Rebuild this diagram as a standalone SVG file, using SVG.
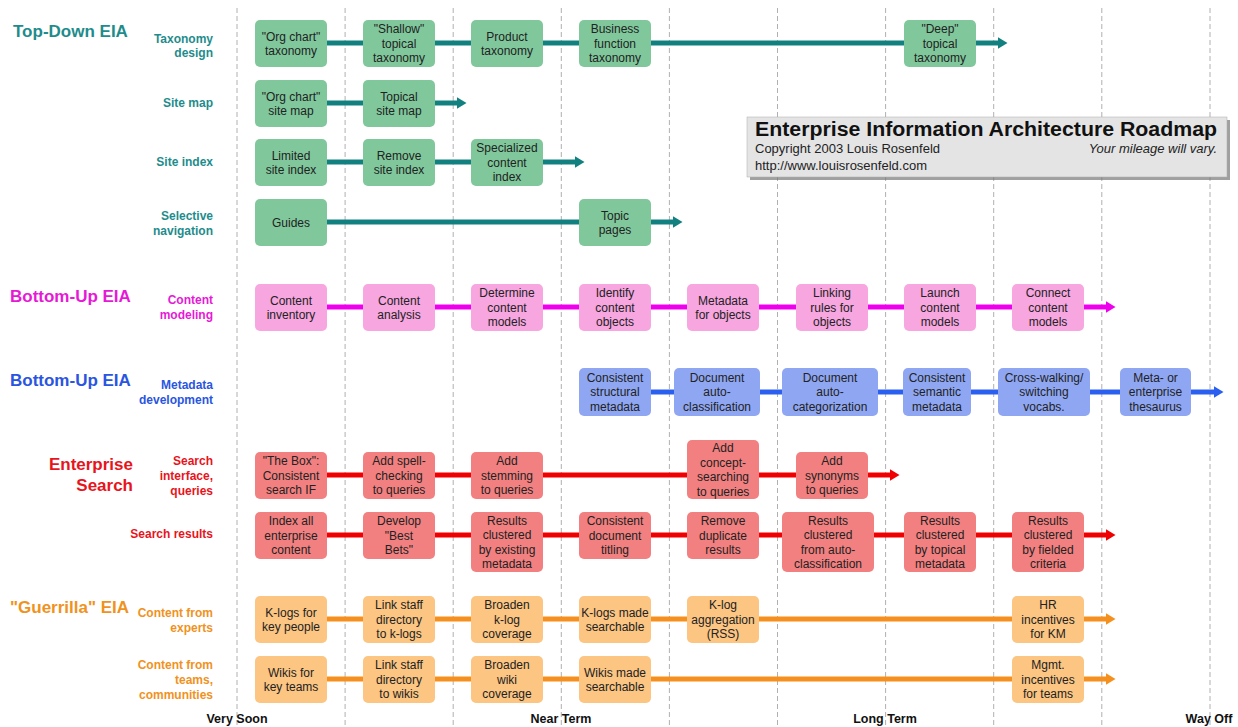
<svg xmlns="http://www.w3.org/2000/svg" width="1238" height="727" viewBox="0 0 1238 727">
<style>
text{font-family:"Liberation Sans",Arial,sans-serif}
.grid line{stroke:#b0b0b0;stroke-width:1;stroke-dasharray:5 3}
.n text{font-size:12px;fill:#222;text-anchor:middle}
.g rect{fill:#80c89c}
.p rect{fill:#f7a6e0}
.b rect{fill:#8fa7f3}
.r rect{fill:#f28080}
.o rect{fill:#fcc582}
.cg{stroke:#138080}
.cp{stroke:#ee00ee}
.cb{stroke:#2b5ff0}
.cr{stroke:#f00000}
.co{stroke:#f5901e}
#connectors line{stroke-width:5}
.grp{font-size:17px;font-weight:bold}
.sub{font-size:12px;font-weight:bold;text-anchor:end}
.tg{fill:#1e8c8c}.tp{fill:#e619d6}.tb{fill:#2a55e0}.tr{fill:#e8141c}.to{fill:#f0921e}
.axis{font-size:12.5px;font-weight:bold;fill:#111;text-anchor:middle}
</style>
<defs>
<marker id="ag" markerUnits="userSpaceOnUse" markerWidth="10" markerHeight="12" viewBox="0 0 10 12" refX="0.5" refY="6" orient="auto"><path d="M0,0 L10,6 L0,12 z" fill="#138080"/></marker>
<marker id="ap" markerUnits="userSpaceOnUse" markerWidth="10" markerHeight="12" viewBox="0 0 10 12" refX="0.5" refY="6" orient="auto"><path d="M0,0 L10,6 L0,12 z" fill="#ee00ee"/></marker>
<marker id="ab" markerUnits="userSpaceOnUse" markerWidth="10" markerHeight="12" viewBox="0 0 10 12" refX="0.5" refY="6" orient="auto"><path d="M0,0 L10,6 L0,12 z" fill="#2b5ff0"/></marker>
<marker id="ar" markerUnits="userSpaceOnUse" markerWidth="10" markerHeight="12" viewBox="0 0 10 12" refX="0.5" refY="6" orient="auto"><path d="M0,0 L10,6 L0,12 z" fill="#f00000"/></marker>
<marker id="ao" markerUnits="userSpaceOnUse" markerWidth="10" markerHeight="12" viewBox="0 0 10 12" refX="0.5" refY="6" orient="auto"><path d="M0,0 L10,6 L0,12 z" fill="#f5901e"/></marker>
</defs>
<rect width="1238" height="727" fill="#fff"/>
<g class="grid">
<line x1="237" y1="8" x2="237" y2="727"/>
<line x1="345.1" y1="8" x2="345.1" y2="727"/>
<line x1="453.2" y1="8" x2="453.2" y2="727"/>
<line x1="561.3" y1="8" x2="561.3" y2="727"/>
<line x1="669.4" y1="8" x2="669.4" y2="727"/>
<line x1="777.5" y1="8" x2="777.5" y2="727"/>
<line x1="885.6" y1="8" x2="885.6" y2="727"/>
<line x1="993.7" y1="8" x2="993.7" y2="727"/>
<line x1="1101.8" y1="8" x2="1101.8" y2="727"/>
<line x1="1210" y1="8" x2="1210" y2="727"/>
</g>
<g id="labels">
<text class="grp tg" x="13" y="37">Top-Down EIA</text>
<text class="grp tp" x="10" y="302">Bottom-Up EIA</text>
<text class="grp tb" x="10" y="386">Bottom-Up EIA</text>
<text class="grp tr" x="133" y="470" text-anchor="end">Enterprise</text>
<text class="grp tr" x="133" y="491" text-anchor="end">Search</text>
<text class="grp to" x="10" y="613">"Guerrilla" EIA</text>
<text class="sub tg" x="213" y="43">Taxonomy</text>
<text class="sub tg" x="213" y="57">design</text>
<text class="sub tg" x="213" y="107">Site map</text>
<text class="sub tg" x="213" y="166">Site index</text>
<text class="sub tg" x="213" y="220">Selective</text>
<text class="sub tg" x="213" y="235">navigation</text>
<text class="sub tp" x="213" y="304">Content</text>
<text class="sub tp" x="213" y="319">modeling</text>
<text class="sub tb" x="213" y="389">Metadata</text>
<text class="sub tb" x="213" y="404">development</text>
<text class="sub tr" x="213" y="465">Search</text>
<text class="sub tr" x="213" y="480">interface,</text>
<text class="sub tr" x="213" y="495">queries</text>
<text class="sub tr" x="213" y="538">Search results</text>
<text class="sub to" x="213" y="617">Content from</text>
<text class="sub to" x="213" y="632">experts</text>
<text class="sub to" x="213" y="669">Content from</text>
<text class="sub to" x="213" y="684">teams,</text>
<text class="sub to" x="213" y="699">communities</text>
<text class="axis" x="237" y="723">Very Soon</text>
<text class="axis" x="561" y="723">Near Term</text>
<text class="axis" x="885" y="723">Long Term</text>
<text class="axis" x="1209" y="723">Way Off</text>
</g>
<g id="title">
<rect x="750" y="120" width="480" height="60" fill="#777" opacity="0.7"/>
<rect x="747" y="117" width="480" height="60" fill="#e4e4e4" stroke="#aaa" stroke-width="0.5"/>
<text x="755" y="136" font-size="20" font-weight="bold" fill="#111" textLength="462" lengthAdjust="spacingAndGlyphs">Enterprise Information Architecture Roadmap</text>
<text x="755" y="153" font-size="13" fill="#222">Copyright 2003 Louis Rosenfeld</text>
<text x="1217" y="153" font-size="13" fill="#222" font-style="italic" text-anchor="end">Your mileage will vary.</text>
<text x="755" y="170" font-size="13" fill="#222">http://www.louisrosenfeld.com</text>
</g>
<g id="connectors">
<line class="cg" x1="327" y1="43" x2="363" y2="43"/>
<line class="cg" x1="435" y1="43" x2="471" y2="43"/>
<line class="cg" x1="543" y1="43" x2="579" y2="43"/>
<line class="cg" x1="651" y1="43" x2="904" y2="43"/>
<line class="cg" x1="976" y1="43" x2="998" y2="43" marker-end="url(#ag)"/>
<line class="cg" x1="327" y1="103" x2="363" y2="103"/>
<line class="cg" x1="435" y1="103" x2="457" y2="103" marker-end="url(#ag)"/>
<line class="cg" x1="327" y1="162" x2="363" y2="162"/>
<line class="cg" x1="435" y1="162" x2="471" y2="162"/>
<line class="cg" x1="543" y1="162" x2="575" y2="162" marker-end="url(#ag)"/>
<line class="cg" x1="327" y1="222" x2="579" y2="222"/>
<line class="cg" x1="651" y1="222" x2="673" y2="222" marker-end="url(#ag)"/>
<line class="cp" x1="327" y1="307" x2="363" y2="307"/>
<line class="cp" x1="435" y1="307" x2="471" y2="307"/>
<line class="cp" x1="543" y1="307" x2="579" y2="307"/>
<line class="cp" x1="651" y1="307" x2="687" y2="307"/>
<line class="cp" x1="759" y1="307" x2="796" y2="307"/>
<line class="cp" x1="868" y1="307" x2="904" y2="307"/>
<line class="cp" x1="976" y1="307" x2="1012" y2="307"/>
<line class="cp" x1="1084" y1="307" x2="1106" y2="307" marker-end="url(#ap)"/>
<line class="cb" x1="651" y1="392" x2="674" y2="392"/>
<line class="cb" x1="760" y1="392" x2="782" y2="392"/>
<line class="cb" x1="878" y1="392" x2="903" y2="392"/>
<line class="cb" x1="971" y1="392" x2="998" y2="392"/>
<line class="cb" x1="1090" y1="392" x2="1120" y2="392"/>
<line class="cb" x1="1191" y1="392" x2="1214" y2="392" marker-end="url(#ab)"/>
<line class="cr" x1="327" y1="475" x2="363" y2="475"/>
<line class="cr" x1="435" y1="475" x2="471" y2="475"/>
<line class="cr" x1="543" y1="475" x2="687" y2="475"/>
<line class="cr" x1="759" y1="475" x2="796" y2="475"/>
<line class="cr" x1="868" y1="475" x2="890" y2="475" marker-end="url(#ar)"/>
<line class="cr" x1="327" y1="535" x2="363" y2="535"/>
<line class="cr" x1="435" y1="535" x2="471" y2="535"/>
<line class="cr" x1="543" y1="535" x2="579" y2="535"/>
<line class="cr" x1="651" y1="535" x2="687" y2="535"/>
<line class="cr" x1="759" y1="535" x2="782" y2="535"/>
<line class="cr" x1="874" y1="535" x2="904" y2="535"/>
<line class="cr" x1="976" y1="535" x2="1012" y2="535"/>
<line class="cr" x1="1084" y1="535" x2="1106" y2="535" marker-end="url(#ar)"/>
<line class="co" x1="327" y1="619" x2="363" y2="619"/>
<line class="co" x1="435" y1="619" x2="471" y2="619"/>
<line class="co" x1="543" y1="619" x2="579" y2="619"/>
<line class="co" x1="651" y1="619" x2="687" y2="619"/>
<line class="co" x1="759" y1="619" x2="1012" y2="619"/>
<line class="co" x1="1084" y1="619" x2="1106" y2="619" marker-end="url(#ao)"/>
<line class="co" x1="327" y1="679" x2="363" y2="679"/>
<line class="co" x1="435" y1="679" x2="471" y2="679"/>
<line class="co" x1="543" y1="679" x2="579" y2="679"/>
<line class="co" x1="651" y1="679" x2="1012" y2="679"/>
<line class="co" x1="1084" y1="679" x2="1106" y2="679" marker-end="url(#ao)"/>
</g>
<!-- Top-Down: taxonomy -->
<g id="t1a" class="n g"><rect x="255" y="20" width="72" height="47" rx="5"/><text x="291"><tspan x="291" y="40.5">"Org chart"</tspan><tspan x="291" y="55">taxonomy</tspan></text></g>
<g id="t1b" class="n g"><rect x="363" y="20" width="72" height="47" rx="5"/><text x="399"><tspan x="399" y="33.3">"Shallow"</tspan><tspan x="399" y="47.8">topical</tspan><tspan x="399" y="62.3">taxonomy</tspan></text></g>
<g id="t1c" class="n g"><rect x="471" y="20" width="72" height="47" rx="5"/><text x="507"><tspan x="507" y="40.5">Product</tspan><tspan x="507" y="55">taxonomy</tspan></text></g>
<g id="t1d" class="n g"><rect x="579" y="20" width="72" height="47" rx="5"/><text x="615"><tspan x="615" y="33.3">Business</tspan><tspan x="615" y="47.8">function</tspan><tspan x="615" y="62.3">taxonomy</tspan></text></g>
<g id="t1e" class="n g"><rect x="904" y="20" width="72" height="47" rx="5"/><text x="940"><tspan x="940" y="33.3">"Deep"</tspan><tspan x="940" y="47.8">topical</tspan><tspan x="940" y="62.3">taxonomy</tspan></text></g>
<!-- site map -->
<g id="t2a" class="n g"><rect x="255" y="80" width="72" height="47" rx="5"/><text x="291"><tspan x="291" y="100.5">"Org chart"</tspan><tspan x="291" y="115">site map</tspan></text></g>
<g id="t2b" class="n g"><rect x="363" y="80" width="72" height="47" rx="5"/><text x="399"><tspan x="399" y="100.5">Topical</tspan><tspan x="399" y="115">site map</tspan></text></g>
<!-- site index -->
<g id="t3a" class="n g"><rect x="255" y="139" width="72" height="47" rx="5"/><text x="291"><tspan x="291" y="159.5">Limited</tspan><tspan x="291" y="174">site index</tspan></text></g>
<g id="t3b" class="n g"><rect x="363" y="139" width="72" height="47" rx="5"/><text x="399"><tspan x="399" y="159.5">Remove</tspan><tspan x="399" y="174">site index</tspan></text></g>
<g id="t3c" class="n g"><rect x="471" y="139" width="72" height="47" rx="5"/><text x="507"><tspan x="507" y="152.3">Specialized</tspan><tspan x="507" y="166.8">content</tspan><tspan x="507" y="181.3">index</tspan></text></g>
<!-- selective nav -->
<g id="t4a" class="n g"><rect x="255" y="199" width="72" height="47" rx="5"/><text x="291"><tspan x="291" y="226.8">Guides</tspan></text></g>
<g id="t4b" class="n g"><rect x="579" y="199" width="72" height="47" rx="5"/><text x="615"><tspan x="615" y="219.5">Topic</tspan><tspan x="615" y="234">pages</tspan></text></g>
<!-- content modeling -->
<g id="p1" class="n p"><rect x="255" y="284" width="72" height="47" rx="5"/><text x="291"><tspan x="291" y="304.5">Content</tspan><tspan x="291" y="319">inventory</tspan></text></g>
<g id="p2" class="n p"><rect x="363" y="284" width="72" height="47" rx="5"/><text x="399"><tspan x="399" y="304.5">Content</tspan><tspan x="399" y="319">analysis</tspan></text></g>
<g id="p3" class="n p"><rect x="471" y="284" width="72" height="47" rx="5"/><text x="507"><tspan x="507" y="297.3">Determine</tspan><tspan x="507" y="311.8">content</tspan><tspan x="507" y="326.3">models</tspan></text></g>
<g id="p4" class="n p"><rect x="579" y="284" width="72" height="47" rx="5"/><text x="615"><tspan x="615" y="297.3">Identify</tspan><tspan x="615" y="311.8">content</tspan><tspan x="615" y="326.3">objects</tspan></text></g>
<g id="p5" class="n p"><rect x="687" y="284" width="72" height="47" rx="5"/><text x="723"><tspan x="723" y="304.5">Metadata</tspan><tspan x="723" y="319">for objects</tspan></text></g>
<g id="p6" class="n p"><rect x="796" y="284" width="72" height="47" rx="5"/><text x="832"><tspan x="832" y="297.3">Linking</tspan><tspan x="832" y="311.8">rules for</tspan><tspan x="832" y="326.3">objects</tspan></text></g>
<g id="p7" class="n p"><rect x="904" y="284" width="72" height="47" rx="5"/><text x="940"><tspan x="940" y="297.3">Launch</tspan><tspan x="940" y="311.8">content</tspan><tspan x="940" y="326.3">models</tspan></text></g>
<g id="p8" class="n p"><rect x="1012" y="284" width="72" height="47" rx="5"/><text x="1048"><tspan x="1048" y="297.3">Connect</tspan><tspan x="1048" y="311.8">content</tspan><tspan x="1048" y="326.3">models</tspan></text></g>
<!-- metadata -->
<g id="b1" class="n b"><rect x="579" y="368" width="72" height="48" rx="5"/><text x="615"><tspan x="615" y="381.7">Consistent</tspan><tspan x="615" y="396.2">structural</tspan><tspan x="615" y="410.7">metadata</tspan></text></g>
<g id="b2" class="n b"><rect x="674" y="368" width="86" height="48" rx="5"/><text x="717"><tspan x="717" y="381.7">Document</tspan><tspan x="717" y="396.2">auto-</tspan><tspan x="717" y="410.7">classification</tspan></text></g>
<g id="b3" class="n b"><rect x="782" y="368" width="96" height="48" rx="5"/><text x="830"><tspan x="830" y="381.7">Document</tspan><tspan x="830" y="396.2">auto-</tspan><tspan x="830" y="410.7">categorization</tspan></text></g>
<g id="b4" class="n b"><rect x="903" y="368" width="68" height="48" rx="5"/><text x="937"><tspan x="937" y="381.7">Consistent</tspan><tspan x="937" y="396.2">semantic</tspan><tspan x="937" y="410.7">metadata</tspan></text></g>
<g id="b5" class="n b"><rect x="998" y="368" width="92" height="48" rx="5"/><text x="1044"><tspan x="1044" y="381.7">Cross-walking/</tspan><tspan x="1044" y="396.2">switching</tspan><tspan x="1044" y="410.7">vocabs.</tspan></text></g>
<g id="b6" class="n b"><rect x="1120" y="368" width="71" height="48" rx="5"/><text x="1155.5"><tspan x="1155.5" y="381.7">Meta- or</tspan><tspan x="1155.5" y="396.2">enterprise</tspan><tspan x="1155.5" y="410.7">thesaurus</tspan></text></g>
<!-- search interface -->
<g id="s1a" class="n r"><rect x="255" y="452" width="72" height="47" rx="5"/><text x="291"><tspan x="291" y="465.3">"The Box":</tspan><tspan x="291" y="479.8">Consistent</tspan><tspan x="291" y="494.3">search IF</tspan></text></g>
<g id="s1b" class="n r"><rect x="363" y="452" width="72" height="47" rx="5"/><text x="399"><tspan x="399" y="465.3">Add spell-</tspan><tspan x="399" y="479.8">checking</tspan><tspan x="399" y="494.3">to queries</tspan></text></g>
<g id="s1c" class="n r"><rect x="471" y="452" width="72" height="47" rx="5"/><text x="507"><tspan x="507" y="465.3">Add</tspan><tspan x="507" y="479.8">stemming</tspan><tspan x="507" y="494.3">to queries</tspan></text></g>
<g id="s1d" class="n r"><rect x="687" y="440" width="72" height="59" rx="5"/><text x="723"><tspan x="723" y="452">Add</tspan><tspan x="723" y="466.5">concept-</tspan><tspan x="723" y="481">searching</tspan><tspan x="723" y="495.5">to queries</tspan></text></g>
<g id="s1e" class="n r"><rect x="796" y="452" width="72" height="47" rx="5"/><text x="832"><tspan x="832" y="465.3">Add</tspan><tspan x="832" y="479.8">synonyms</tspan><tspan x="832" y="494.3">to queries</tspan></text></g>
<!-- search results -->
<g id="s2a" class="n r"><rect x="255" y="512" width="72" height="47" rx="5"/><text x="291"><tspan x="291" y="525.3">Index all</tspan><tspan x="291" y="539.8">enterprise</tspan><tspan x="291" y="554.3">content</tspan></text></g>
<g id="s2b" class="n r"><rect x="363" y="512" width="72" height="47" rx="5"/><text x="399"><tspan x="399" y="525.3">Develop</tspan><tspan x="399" y="539.8">"Best</tspan><tspan x="399" y="554.3">Bets"</tspan></text></g>
<g id="s2c" class="n r"><rect x="471" y="512" width="72" height="60" rx="5"/><text x="507"><tspan x="507" y="524.5">Results</tspan><tspan x="507" y="539">clustered</tspan><tspan x="507" y="553.5">by existing</tspan><tspan x="507" y="568">metadata</tspan></text></g>
<g id="s2d" class="n r"><rect x="579" y="512" width="72" height="47" rx="5"/><text x="615"><tspan x="615" y="525.3">Consistent</tspan><tspan x="615" y="539.8">document</tspan><tspan x="615" y="554.3">titling</tspan></text></g>
<g id="s2e" class="n r"><rect x="687" y="512" width="72" height="47" rx="5"/><text x="723"><tspan x="723" y="525.3">Remove</tspan><tspan x="723" y="539.8">duplicate</tspan><tspan x="723" y="554.3">results</tspan></text></g>
<g id="s2f" class="n r"><rect x="782" y="512" width="92" height="60" rx="5"/><text x="828"><tspan x="828" y="524.5">Results</tspan><tspan x="828" y="539">clustered</tspan><tspan x="828" y="553.5">from auto-</tspan><tspan x="828" y="568">classification</tspan></text></g>
<g id="s2g" class="n r"><rect x="904" y="512" width="72" height="60" rx="5"/><text x="940"><tspan x="940" y="524.5">Results</tspan><tspan x="940" y="539">clustered</tspan><tspan x="940" y="553.5">by topical</tspan><tspan x="940" y="568">metadata</tspan></text></g>
<g id="s2h" class="n r"><rect x="1012" y="512" width="72" height="60" rx="5"/><text x="1048"><tspan x="1048" y="524.5">Results</tspan><tspan x="1048" y="539">clustered</tspan><tspan x="1048" y="553.5">by fielded</tspan><tspan x="1048" y="568">criteria</tspan></text></g>
<!-- guerrilla experts -->
<g id="o1a" class="n o"><rect x="255" y="596" width="72" height="47" rx="5"/><text x="291"><tspan x="291" y="616.5">K-logs for</tspan><tspan x="291" y="631">key people</tspan></text></g>
<g id="o1b" class="n o"><rect x="363" y="596" width="72" height="47" rx="5"/><text x="399"><tspan x="399" y="609.3">Link staff</tspan><tspan x="399" y="623.8">directory</tspan><tspan x="399" y="638.3">to k-logs</tspan></text></g>
<g id="o1c" class="n o"><rect x="471" y="596" width="72" height="47" rx="5"/><text x="507"><tspan x="507" y="609.3">Broaden</tspan><tspan x="507" y="623.8">k-log</tspan><tspan x="507" y="638.3">coverage</tspan></text></g>
<g id="o1d" class="n o"><rect x="579" y="596" width="72" height="47" rx="5"/><text x="615"><tspan x="615" y="616.5">K-logs made</tspan><tspan x="615" y="631">searchable</tspan></text></g>
<g id="o1e" class="n o"><rect x="687" y="596" width="72" height="47" rx="5"/><text x="723"><tspan x="723" y="609.3">K-log</tspan><tspan x="723" y="623.8">aggregation</tspan><tspan x="723" y="638.3">(RSS)</tspan></text></g>
<g id="o1f" class="n o"><rect x="1012" y="596" width="72" height="47" rx="5"/><text x="1048"><tspan x="1048" y="609.3">HR</tspan><tspan x="1048" y="623.8">incentives</tspan><tspan x="1048" y="638.3">for KM</tspan></text></g>
<!-- guerrilla teams -->
<g id="o2a" class="n o"><rect x="255" y="656" width="72" height="47" rx="5"/><text x="291"><tspan x="291" y="676.5">Wikis for</tspan><tspan x="291" y="691">key teams</tspan></text></g>
<g id="o2b" class="n o"><rect x="363" y="656" width="72" height="47" rx="5"/><text x="399"><tspan x="399" y="669.3">Link staff</tspan><tspan x="399" y="683.8">directory</tspan><tspan x="399" y="698.3">to wikis</tspan></text></g>
<g id="o2c" class="n o"><rect x="471" y="656" width="72" height="47" rx="5"/><text x="507"><tspan x="507" y="669.3">Broaden</tspan><tspan x="507" y="683.8">wiki</tspan><tspan x="507" y="698.3">coverage</tspan></text></g>
<g id="o2d" class="n o"><rect x="579" y="656" width="72" height="47" rx="5"/><text x="615"><tspan x="615" y="676.5">Wikis made</tspan><tspan x="615" y="691">searchable</tspan></text></g>
<g id="o2e" class="n o"><rect x="1012" y="656" width="72" height="47" rx="5"/><text x="1048"><tspan x="1048" y="669.3">Mgmt.</tspan><tspan x="1048" y="683.8">incentives</tspan><tspan x="1048" y="698.3">for teams</tspan></text></g>
</svg>
